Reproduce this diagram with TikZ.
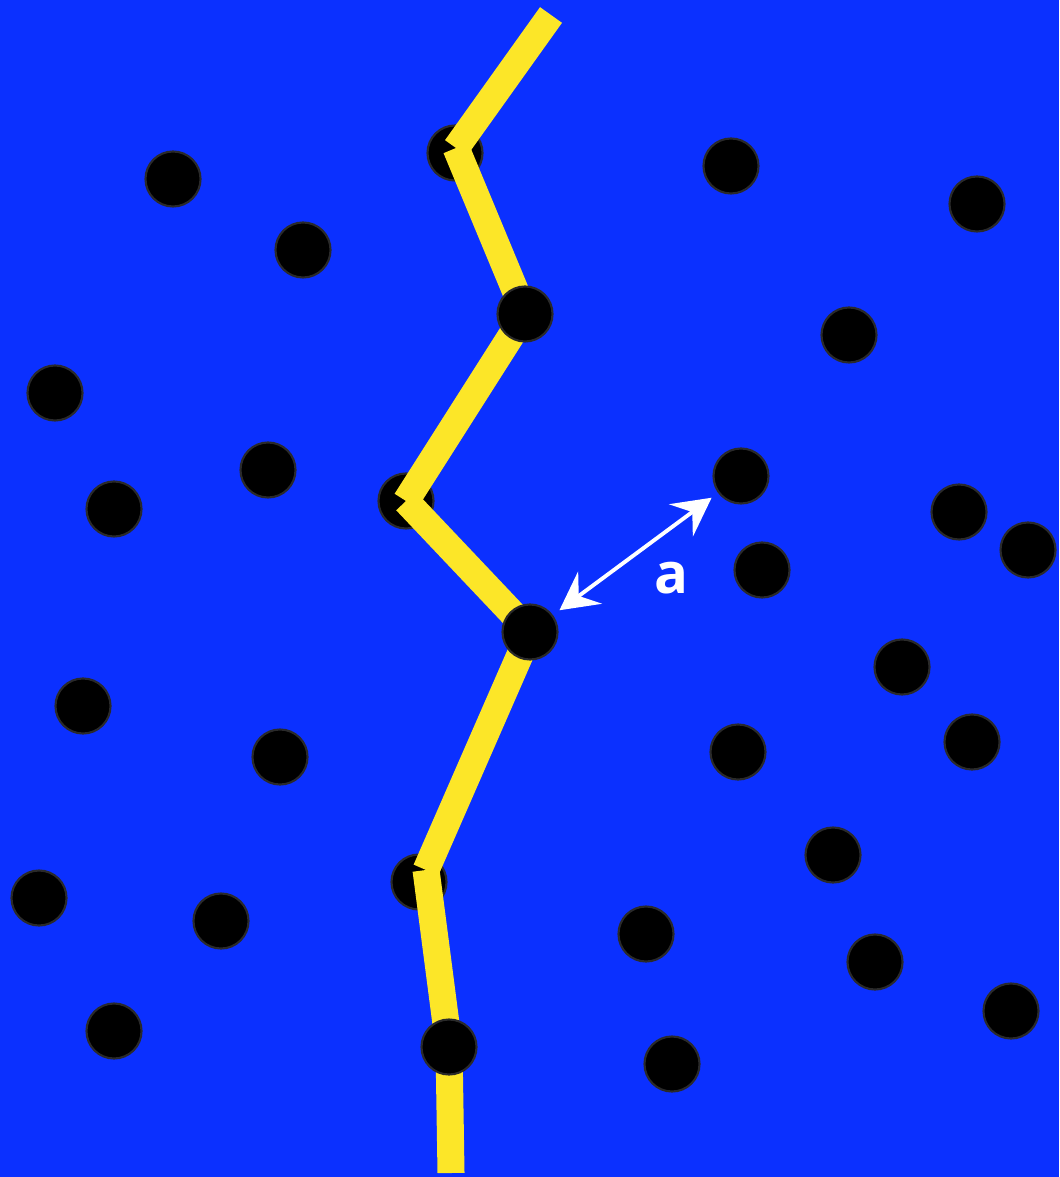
\documentclass[tikz,border=0pt]{standalone}
\usepackage{fontspec}
\setsansfont{Open Sans}
\usetikzlibrary{arrows.meta, positioning}
\definecolor{grainblue}{RGB}{11,48,255}
\definecolor{crackyellow}{RGB}{252,230,40}
\definecolor{dotrim}{RGB}{42,42,42}
\pgfdeclarelayer{front}
\pgfsetlayers{main,front}

\begin{document}
\begin{tikzpicture}[
    x=0.01cm, y=-0.01cm,
    dot/.style={circle, fill=black, draw=dotrim, line width=0.6pt, minimum size=0.55cm, inner sep=0pt},
    crack/.style={crackyellow, line width=0.27cm, line cap=butt},
    gap/.style={white, line width=1.1pt, {Stealth[length=3.8mm, width=4mm, inset=1.4mm]}-{Stealth[length=3.8mm, width=4mm, inset=1.4mm]}, shorten <=0.08cm, shorten >=0.08cm}
  ]
  % background
  \useasboundingbox (0,0) rectangle (1059,1177);
  \fill[grainblue] (0,0) rectangle (1059,1177);

  % particles, left half
  \node[dot] (p2) at (173,179) {};
  \node[dot] (p5) at (303,250) {};
  \node[dot] (p8) at (55,393) {};
  \node[dot] (p9) at (268,470) {};
  \node[dot] (p10) at (114,509) {};
  \node[dot] (p18) at (83,706) {};
  \node[dot] (p19) at (280,757) {};
  \node[dot] (p23) at (39,898) {};
  \node[dot] (p25) at (221,921) {};
  \node[dot] (p29) at (114,1031) {};

  % particles, right half
  \node[dot] (p3) at (731,166) {};
  \node[dot] (p4) at (977,204) {};
  \node[dot] (p7) at (849,335) {};
  \node[dot] (p12) at (741,476) {};
  \node[dot] (p13) at (959,512) {};
  \node[dot] (p14) at (1028,550) {};
  \node[dot] (p15) at (762,570) {};
  \node[dot] (p17) at (902,667) {};
  \node[dot] (p20) at (738,752) {};
  \node[dot] (p21) at (972,742) {};
  \node[dot] (p22) at (833,855) {};
  \node[dot] (p26) at (646,934) {};
  \node[dot] (p27) at (875,962) {};
  \node[dot] (p28) at (1011,1011) {};
  \node[dot] (p31) at (672,1064) {};

  % particles under the crack
  \node[dot] (p1) at (455,153) {};
  \node[dot] (p11) at (406,501) {};
  \node[dot] (p24) at (419,882) {};

  % particles over the crack
  \begin{pgfonlayer}{front}
    \node[dot] (p6) at (525,314) {};
    \node[dot] (p16) at (530,632) {};
    \node[dot] (p30) at (449,1047) {};
  \end{pgfonlayer}

  % crack path
  \coordinate (top) at (551,15);
  \coordinate (j1) at (456,148);
  \coordinate (j24) at (426,870);
  \coordinate (bot) at (451,1173);
  \draw[crack] (top) -- (j1);
  \draw[crack] (j1) -- (p6.center);
  \draw[crack] (p6.center) -- (p11.center);
  \draw[crack] (p11.center) -- (p16.center);
  \draw[crack] (p16.center) -- (j24);
  \draw[crack] (j24) -- (p30.center);
  \draw[crack] (p30.center) -- (bot);

  % spacing arrow
  \draw[gap] (p16) -- (p12);
  \node[white, font=\sffamily\bfseries\fontsize{16}{18}\selectfont] (alabel) at (671,578) {a};
\end{tikzpicture}
\end{document}
